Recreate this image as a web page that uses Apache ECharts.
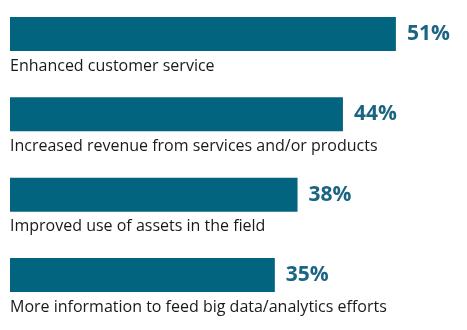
<!DOCTYPE html>
<html>
<head>
<meta charset="utf-8">
<script src="https://cdn.jsdelivr.net/npm/echarts@6/dist/echarts.min.js"></script>
<style>
  html, body { margin: 0; padding: 0; background: #fff; }
  #chart { width: 467px; height: 330px; }
</style>
</head>
<body>
<div id="chart"></div>
<script>
// Share of respondents citing each benefit (%)
const categories = [
  'Enhanced customer service',
  'Increased revenue from services and/or products',
  'Improved use of assets in the field',
  'More information to feed big data/analytics efforts'
];
const values = [51, 44, 38, 35];

const barColor = '#03647f';
const valueColor = '#1c6582';

const chart = echarts.init(document.getElementById('chart'), null, { renderer: 'canvas' });

chart.setOption({
  animation: false,
  backgroundColor: '#ffffff',
  // bar centres sit on the grid edges (boundaryGap off)
  grid: { left: 10, right: 3, top: 34, bottom: 55 },
  xAxis: {
    type: 'value',
    min: 0,
    max: 60,
    show: false
  },
  yAxis: {
    type: 'category',
    data: categories,
    inverse: true,
    boundaryGap: false,
    show: false
  },
  series: [
    {
      // category names sit beneath each bar
      type: 'bar',
      data: values,
      barWidth: 34,
      barGap: '-100%',
      itemStyle: { color: 'rgba(0,0,0,0)' },
      silent: true,
      label: {
        show: true,
        position: [0, 41],
        align: 'left',
        verticalAlign: 'top',
        formatter: (p) => categories[p.dataIndex],
        color: '#1a1a1a',
        fontFamily: 'Open Sans',
        fontSize: 16
      }
    },
    {
      type: 'bar',
      data: values,
      barWidth: 34,
      barGap: '-100%',
      itemStyle: { color: barColor },
      label: {
        show: true,
        position: 'right',
        distance: 11,
        formatter: (p) => p.value + '%',
        color: valueColor,
        fontFamily: 'Open Sans',
        fontWeight: 'bold',
        fontSize: 21
      }
    }
  ]
});
</script>
</body>
</html>
